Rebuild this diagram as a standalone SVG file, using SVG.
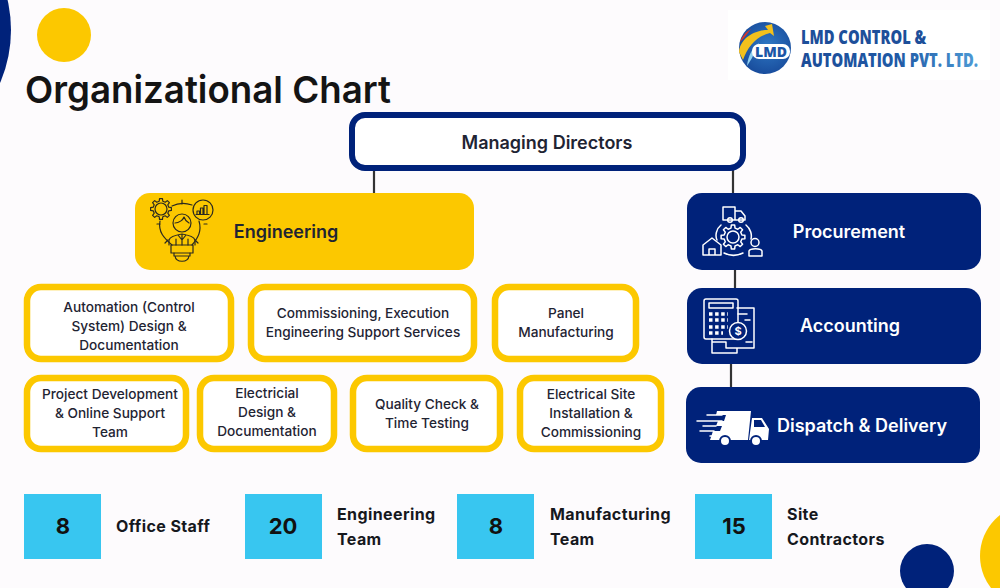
<svg xmlns="http://www.w3.org/2000/svg" width="1000" height="588" viewBox="0 0 1000 588">
<defs>
<linearGradient id="lg" x1="0" x2="1" y1="0" y2="0"><stop offset="0" stop-color="#1c4c98"/><stop offset=".55" stop-color="#205aa6"/><stop offset="1" stop-color="#4d9bd6"/></linearGradient>
<radialGradient id="gl" cx=".55" cy=".45" r=".6"><stop offset="0" stop-color="#2f78c4"/><stop offset="1" stop-color="#174a9a"/></radialGradient>
<polygon id="gear" vector-effect="non-scaling-stroke" points=".74,.171 .99,.139 .99,-.139 .74,-.171 .645,-.403 .799,-.602 .602,-.799 .403,-.645 .171,-.74 .139,-.99 -.139,-.99 -.171,-.74 -.403,-.645 -.602,-.799 -.799,-.602 -.645,-.403 -.74,-.171 -.99,-.139 -.99,.139 -.74,.171 -.645,.403 -.799,.602 -.602,.799 -.403,.645 -.171,.74 -.139,.99 .139,.99 .171,.74 .403,.645 .602,.799 .799,.602 .645,.403"/>
</defs>
<style>
.t{font-family:Inter,"Liberation Sans",sans-serif;text-anchor:middle}
.box{fill:#fff;stroke:#fcc800;stroke-width:6.5}
.lb{font-size:13.65px;font-weight:500;fill:#1f2433}
.hd{font-size:18px;font-weight:600}
.w{fill:#fff}
.navy{fill:#00227a}
.num{font-size:22px;font-weight:700;fill:#111}
.st{font-family:Inter,"Liberation Sans",sans-serif;font-size:16px;font-weight:700;letter-spacing:.4px;fill:#16181d}
.cy{fill:#38c6f0}
.ic{fill:none;stroke:#fff;stroke-width:1.5;stroke-linejoin:round;stroke-linecap:round}
.id{fill:none;stroke:#2b2a20;stroke-width:1.2;stroke-linejoin:round;stroke-linecap:round}
.con{stroke:#333;stroke-width:2.2;fill:none}
.lg{font-family:"Open Sans","Liberation Sans",sans-serif;font-size:20px;font-weight:800}
</style>
<rect width="1000" height="588" fill="#fdfbfd"/>
<g id="decor">
<circle cx="-122" cy="30" r="133" fill="#00227a"/>
<circle cx="64" cy="35" r="27" fill="#fcc800"/>
<circle cx="927" cy="571" r="27" fill="#00227a"/>
<circle cx="1032" cy="556" r="52" fill="#fcc800"/>
</g>
<text id="title" x="25" y="103" font-family="Inter,'Liberation Sans',sans-serif" font-size="37.5" font-weight="600" fill="#141414" textLength="366" lengthAdjust="spacingAndGlyphs">Organizational Chart</text>
<g id="logo">
<rect x="728" y="10" width="262" height="70" fill="#fff"/>
<circle cx="765" cy="48" r="26" fill="url(#gl)"/>
<path d="M739 52C740 40 752 30 768 30L765 26 772 24 774 36 770 33C757 36 748 46 743 60Z" fill="#f2c01c"/>
<path d="M740 42C742 36 746 32 751 29L744 38Z" fill="#d8352a"/>
<path d="M747 66C748 56 752 48 759 43L752 58Z" fill="#8fd0f0"/>
<rect x="752" y="44" width="38" height="15" rx="7" fill="#fff"/>
<text x="771" y="56.5" font-family="'Open Sans','Liberation Sans',sans-serif" font-size="14" font-weight="800" fill="#1c56a6" text-anchor="middle">LMD</text>
<text class="lg" transform="translate(801 44) scale(.72 1)" fill="#1d4f9a" textLength="174" lengthAdjust="spacingAndGlyphs">LMD CONTROL &amp;</text>
<text class="lg" transform="translate(801 67) scale(.72 1)" fill="url(#lg)" textLength="246" lengthAdjust="spacingAndGlyphs">AUTOMATION PVT. LTD.</text>
</g>
<g id="connectors">
<path class="con" d="M374 168V193M733 168V193M735 262V288M731 362V387"/>
</g>
<g id="managing">
<rect x="352" y="115" width="391" height="53" rx="13" fill="#fff" stroke="#00227a" stroke-width="6"/>
<text class="t" x="547" y="148.500" font-size="18" font-weight="600" fill="#1f2433">Managing Directors</text>
</g>
<g id="engineering">
<rect x="135" y="193" width="339" height="77" rx="15" fill="#fcc800"/>
<g class="id">
<use href="#gear" transform="translate(161 209) scale(10.5)"/>
<circle cx="161" cy="209" r="6"/>
<circle cx="203" cy="210" r="10"/>
<path d="M197 214.500V211H199.500V214.500M200.500 214.500V208H203V214.500M204 214.500V205.500H207V214.500M196 214.500H209"/>
<path d="M172 206C178 203 186 203 192 205M160 221C158 232 164 238 172 245M199 221C202 231 198 238 192 245"/>
<path d="M182 200V204M157 224H160M204 224H207M165 243L168 240M198 243L195 240"/>
<circle cx="182" cy="223" r="9"/>
<path d="M175 223C179 223 183 220 184 217C185 220 187 222 189 223"/>
<path d="M169 245V240C170 237 176 235 182 234C188 235 194 237 195 240V245M182 234V245M178 235L182 240 186 235M176 245V239M188 245V239"/>
<rect x="171" y="245" width="22" height="8"/>
<path d="M174 253V256H190V253M175 256C176 263 188 263 189 256"/>
</g>
<text class="t hd" x="286" y="238" fill="#1f2433">Engineering</text>
</g>
<g id="procurement">
<rect x="687" y="193" width="294" height="77" rx="15" class="navy"/>
<g class="ic">
<path d="M723 207H735V220H723ZM735 211H741L745 216V220H735"/><circle cx="730" cy="220" r="2.300"/><circle cx="741" cy="220" r="2.300"/>
<use href="#gear" transform="translate(733 237) scale(12)"/>
<circle cx="733" cy="237" r="6"/>
<path d="M721 225C716 229 715 236 717 240M746 225C751 229 752 235 751 239M724 253C730 256 737 256 743 253"/>
<path d="M703 245L712 238 721 245V255H703ZM709 255V249H715V255"/>
<circle cx="755" cy="242.500" r="4"/><path d="M749 256V251C750 248 761 248 762 251V256Z"/>
</g>
<text class="t hd w" x="849" y="238">Procurement</text>
</g>
<g id="accounting">
<rect x="687" y="288" width="294" height="76" rx="15" class="navy"/>
<g class="ic">
<path d="M737 308H754V348H737M712 339V353H737V348H726V342H712"/>
<rect x="704" y="299" width="34" height="40" rx="2"/>
<rect x="709" y="303" width="24" height="5"/>
<path d="M738 314H747M745 320H750M746 342H752" />
<path d="M709 314h19M709 320h19M709 327h19M709 333h14" stroke-width="3.500" stroke-dasharray="3.500 2.600" stroke-linecap="butt"/>
</g>
<circle cx="738" cy="331" r="8.500" fill="#00227a" stroke="#fff" stroke-width="1.500"/>
<text class="t" x="738" y="335" font-size="11" font-weight="700" fill="#fff">$</text>
<text class="t hd w" x="850" y="332">Accounting</text>
</g>
<g id="dispatch">
<rect x="686" y="387" width="294" height="76" rx="15" class="navy"/>
<path class="w" d="M717 411H751L748 440H710L713 431H720L722 426H716L718 421H724L726 415H716ZM752 418H762L769 429 768 440H749Z"/>
<path class="navy" d="M754 420H761L765 427H754Z"/>
<path class="ic" d="M707 415H722M697 421H722M703 426H716M700 431H714M710 436H712" stroke-width="1.300"/>
<circle cx="725" cy="441" r="5" class="w" stroke="#00227a" stroke-width="2"/>
<circle cx="756" cy="441" r="5" class="w" stroke="#00227a" stroke-width="2"/>
<text class="t hd w" x="862" y="432">Dispatch &amp; Delivery</text>
</g>
<g id="n1"><rect class="box" x="27" y="287" width="204" height="72" rx="14"/><text class="t lb"><tspan x="129" y="312">Automation (Control</tspan><tspan x="129" y="331">System) Design &amp;</tspan><tspan x="129" y="350">Documentation</tspan></text></g>
<g id="n2"><rect class="box" x="251" y="287" width="223" height="72" rx="14"/><text class="t lb"><tspan x="363" y="318">Commissioning, Execution</tspan><tspan x="363" y="337">Engineering Support Services</tspan></text></g>
<g id="n3"><rect class="box" x="495" y="287" width="141" height="72" rx="14"/><text class="t lb"><tspan x="566" y="318">Panel</tspan><tspan x="566" y="337">Manufacturing</tspan></text></g>
<g id="n4"><rect class="box" x="27" y="378" width="159" height="71" rx="14"/><text class="t lb"><tspan x="110" y="399">Project Development</tspan><tspan x="110" y="418">&amp; Online Support</tspan><tspan x="110" y="437">Team</tspan></text></g>
<g id="n5"><rect class="box" x="200" y="378" width="134" height="71" rx="14"/><text class="t lb"><tspan x="267" y="398">Electricial</tspan><tspan x="267" y="417">Design &amp;</tspan><tspan x="267" y="436">Documentation</tspan></text></g>
<g id="n6"><rect class="box" x="353" y="378" width="147" height="71" rx="14"/><text class="t lb"><tspan x="427" y="409">Quality Check &amp;</tspan><tspan x="427" y="428">Time Testing</tspan></text></g>
<g id="n7"><rect class="box" x="520" y="378" width="141" height="71" rx="14"/><text class="t lb"><tspan x="591" y="399">Electrical Site</tspan><tspan x="591" y="418">Installation &amp;</tspan><tspan x="591" y="437">Commissioning</tspan></text></g>
<g id="s1"><rect class="cy" x="24" y="494" width="77" height="65"/><text class="t num" x="63" y="534">8</text><text class="st" x="116" y="532">Office Staff</text></g>
<g id="s2"><rect class="cy" x="245" y="494" width="77" height="65"/><text class="t num" x="283" y="534">20</text><text class="st"><tspan x="337" y="519.500">Engineering</tspan><tspan x="337" y="544.500">Team</tspan></text></g>
<g id="s3"><rect class="cy" x="457" y="494" width="77" height="65"/><text class="t num" x="496" y="534">8</text><text class="st"><tspan x="550" y="519.500">Manufacturing</tspan><tspan x="550" y="544.500">Team</tspan></text></g>
<g id="s4"><rect class="cy" x="695" y="494" width="77" height="65"/><text class="t num" x="734" y="534">15</text><text class="st"><tspan x="787" y="519.500">Site</tspan><tspan x="787" y="544.500">Contractors</tspan></text></g>
</svg>
